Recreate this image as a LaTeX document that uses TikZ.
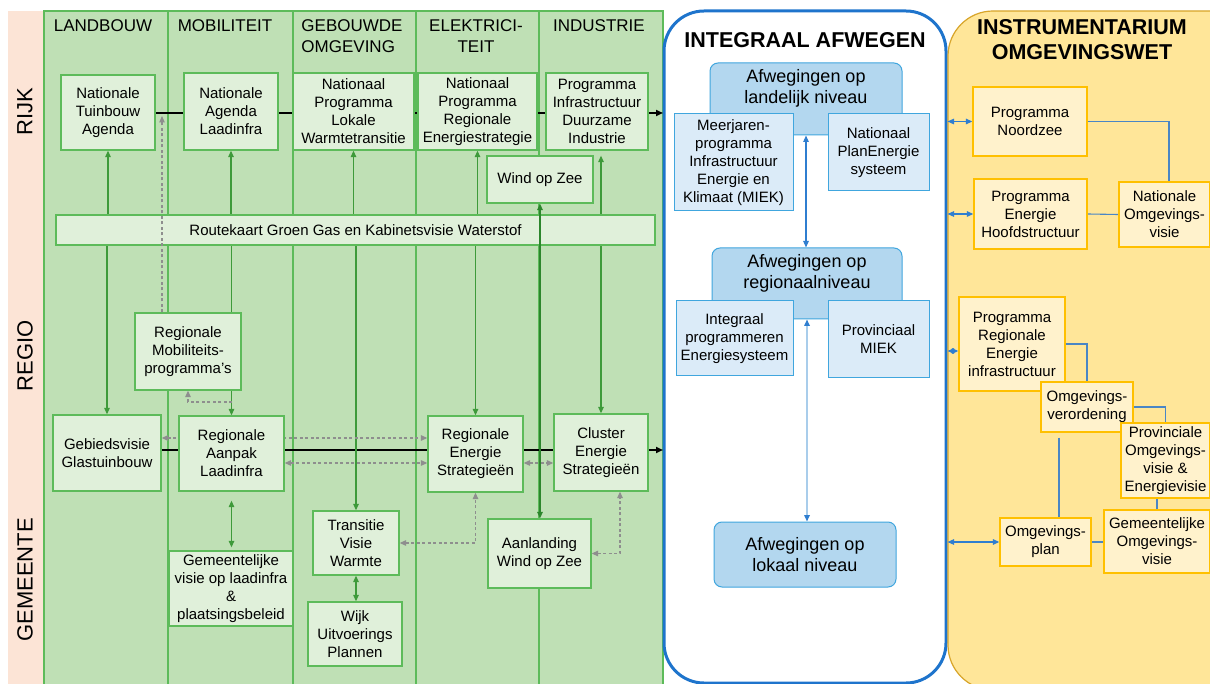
\documentclass[tikz,border=0pt]{standalone}
\usepackage{fontspec}
\setmainfont{Liberation Sans}
\usetikzlibrary{arrows.meta,calc}
\pgfdeclarelayer{back}
\pgfdeclarelayer{mid}
\pgfsetlayers{back,mid,main}
\definecolor{pinkbg}{HTML}{FCE4D6}
\definecolor{greenbg}{HTML}{BFE0B5}
\definecolor{greenline}{HTML}{5DBB5A}
\definecolor{greenbox}{HTML}{E0F0DA}
\definecolor{greenarrow}{HTML}{3E9A3A}
\definecolor{darkgreen}{HTML}{2C862C}
\definecolor{dashgray}{HTML}{8E8E8E}
\definecolor{panelblue}{HTML}{1E74CC}
\definecolor{boxblue}{HTML}{B3D7EF}
\definecolor{boxblueb}{HTML}{40A6DE}
\definecolor{smallblue}{HTML}{DBEBF8}
\definecolor{arrowblue}{HTML}{2F7ED0}
\definecolor{lightline}{HTML}{A9CDEB}
\definecolor{yellowbg}{HTML}{FFE699}
\definecolor{yellowborder}{HTML}{D8A52A}
\definecolor{yellowbox}{HTML}{FFF2CC}
\definecolor{yellowboxb}{HTML}{FFC000}
\definecolor{connblue}{HTML}{4A86C5}
\tikzset{
  >={Triangle[length=6.5pt,width=5.5pt]},
  wh/.style 2 args={minimum width=#1,minimum height=#2},
  txt/.style={font=\fontsize{15}{18}\selectfont, align=center, text=black},
  txtb/.style={font=\fontsize{18}{21}\selectfont, align=center, text=black},
  hdr/.style={font=\fontsize{17}{21}\selectfont, text=black, inner sep=0pt},
  sidelbl/.style={font=\fontsize{22}{26}\selectfont, text=black, rotate=90, inner sep=0pt},
  ttl/.style={font=\fontsize{21.5}{25}\selectfont\bfseries, text=black, align=center, inner sep=0pt},
  gbox/.style={txt, draw=greenline, fill=greenbox, line width=1.3pt, inner sep=2pt},
  bigblue/.style={draw=boxblueb, fill=boxblue, line width=1pt, rounded corners=8pt},
  sbox/.style={txt, draw=boxblueb, fill=smallblue, line width=1pt, inner sep=2pt},
  ybox/.style={txt, draw=yellowboxb, fill=yellowbox, line width=1.3pt, inner sep=2pt},
  col/.style={draw=greenline, fill=greenbg, line width=1.3pt},
  garrow/.style={draw=greenarrow, line width=1.2pt},
  garrowdark/.style={draw=darkgreen, line width=1.5pt},
  blk/.style={draw=black, line width=1.8pt, -{Triangle[length=7pt,width=6pt]}},
  gdash/.style={draw=dashgray, line width=1.2pt, dash pattern=on 3pt off 2.5pt},
  barrow/.style={draw=arrowblue, line width=1.2pt},
  barrowlight/.style={draw=lightline, line width=1.5pt, {Triangle[length=6.5pt,width=5.5pt,color=arrowblue]}-{Triangle[length=6.5pt,width=5.5pt,color=arrowblue]}},
  conn/.style={draw=connblue, line width=1.1pt},
}
\begin{document}
\begin{tikzpicture}[x=1pt,y=-1pt]
\useasboundingbox (0,0) rectangle (1210,684);
\begin{pgfonlayer}{back}
  \fill[pinkbg] (8,11) rectangle (44,690);
  \foreach \a/\b in {44/168,168/293,293/416,416/539,539/663}
    \draw[col] (\a,11) rectangle (\b,690);
  \node[draw=panelblue, line width=3pt, fill=white, rounded corners=40pt, wh={282}{672}] (ia) at (805,347) {};
  \node[draw=yellowborder, fill=yellowbg, line width=1.2pt, rounded corners=45pt, wh={314}{679}] (iw) at (1105,350.5) {};
\end{pgfonlayer}

% headers and side labels
\node[hdr] (hland) at (103,26) {LANDBOUW};
\node[hdr] (hmob) at (225,26) {MOBILITEIT};
\node[hdr, align=left] (hgeb) at (352,36.5) {GEBOUWDE\\OMGEVING};
\node[hdr, align=center] (helek) at (476,36.5) {ELEKTRICI-\\TEIT};
\node[hdr] (hind) at (599,26) {INDUSTRIE};
\node[sidelbl] (srijk) at (25,112) {RIJK};
\node[sidelbl] (sregio) at (25,356) {REGIO};
\node[sidelbl] (sgem) at (25,580) {GEMEENTE};

% green boxes
\node[gbox, wh={94}{75}] (tb) at (108,112.5) {Nationale\\Tuinbouw\\Agenda};
\node[gbox, wh={94}{77}] (la) at (231,111.5) {Nationale\\Agenda\\Laadinfra};
\node[gbox, wh={121}{77}] (wt) at (353.5,111.5) {Nationaal\\Programma\\Lokale\\Warmtetransitie};
\node[gbox, wh={119}{77}] (re) at (477.5,111.5) {Nationaal\\Programma\\Regionale\\Energiestrategie};
\node[gbox, wh={102}{77}] (di) at (597,111.5) {Programma\\Infrastructuur\\Duurzame\\Industrie};
\node[gbox, wh={106}{47}] (woz) at (540,179.5) {Wind op Zee};
\node[gbox, wh={599}{30}] (rk) at (355.5,230) {Routekaart Groen Gas en Kabinetsvisie Waterstof};
\node[gbox, wh={106}{77}] (rmp) at (188,351.5) {Regionale\\Mobiliteits-\\programma's};
\node[gbox, wh={108}{76}] (gv) at (107,453) {Gebiedsvisie\\Glastuinbouw};
\node[gbox, wh={105}{75}] (rl) at (231.5,453.5) {Regionale\\Aanpak\\Laadinfra};
\node[gbox, wh={95}{76}] (res) at (475.5,454) {Regionale\\Energie\\Strategieën};
\node[gbox, wh={94}{77}] (ces) at (601,452.5) {Cluster\\Energie\\Strategieën};
\node[gbox, wh={124}{75}] (gvl) at (231,588.5) {Gemeentelijke\\visie op laadinfra\\\&\\plaatsingsbeleid};
\node[gbox, wh={86}{64}] (tvw) at (356,543) {Transitie\\Visie\\Warmte};
\node[gbox, wh={94}{64}] (wup) at (355,634) {Wijk\\Uitvoerings\\Plannen};
\node[gbox, wh={103}{69}] (awz) at (539.5,553.5) {Aanlanding\\Wind op Zee};

% integraal afwegen
\node[ttl] (tia) at (805,40) {INTEGRAAL AFWEGEN};
\node[bigblue, wh={192}{72}, label={[txtb, anchor=north, yshift=-3pt]north:Afwegingen op\\landelijk niveau}] (al) at (806,99) {};
\node[bigblue, wh={190}{71}, label={[txtb, anchor=north, yshift=-3pt]north:Afwegingen op\\regionaalniveau}] (ar) at (807,283.5) {};
\node[bigblue, txtb, wh={182}{65}] (alo) at (805,554.5) {Afwegingen op\\lokaal niveau};
\node[sbox, wh={119}{97}] (mk) at (733.5,162.5) {Meerjaren-\\programma\\Infrastructuur\\Energie en\\Klimaat (MIEK)};
\node[sbox, wh={101}{77}] (npe) at (878.5,152.5) {Nationaal\\PlanEnergie\\systeem};
\node[sbox, wh={117}{75}] (ipe) at (734.5,338.5) {Integraal\\programmeren\\Energiesysteem};
\node[sbox, wh={101}{77}] (pm) at (878.5,339.5) {Provinciaal\\MIEK};

% instrumentarium
\node[ttl] (tiw) at (1082,39.5) {INSTRUMENTARIUM\\OMGEVINGSWET};
\node[ybox, wh={114}{69}] (pn) at (1030,121.5) {Programma\\Noordzee};
\node[ybox, wh={113}{70}] (peh) at (1030.5,214) {Programma\\Energie\\Hoofdstructuur};
\node[ybox, wh={91}{65}] (nov) at (1164.5,214.5) {Nationale\\Omgevings-\\visie};
\node[ybox, wh={106}{94}] (prei) at (1012,344) {Programma\\Regionale\\Energie\\infrastructuur};
\node[ybox, wh={92}{50}] (ov) at (1087,407) {Omgevings-\\verordening};
\node[ybox, wh={89}{75}] (po) at (1165.5,460.5) {Provinciale\\Omgevings-\\visie \&\\Energievisie};
\node[ybox, wh={91}{48}] (op) at (1045.5,542) {Omgevings-\\plan};
\node[ybox, wh={106}{63}] (gov) at (1157,541.5) {Gemeentelijke\\Omgevings-\\visie};

\coordinate (rijkend) at (663,113);
\coordinate (regend) at (663,450);
\coordinate (ya) at (0,438);
\coordinate (yb) at (0,463);
\coordinate (rljoin) at (232,402);
\coordinate (dtip) at (162,116);

\begin{pgfonlayer}{mid}
  % black flow lines
  \draw[blk] (tb.east |- rijkend) -- (rijkend);
  \draw[blk] (gv.east |- regend) -- (regend);
  % green arrows up to rijk
  \draw[garrow,->] (rk.north -| tb.south) -- (tb.south);
  \draw[garrow,->] (rk.north -| la.south) -- (la.south);
  \draw[garrow,->] (rk.north -| wt.south) -- (wt.south);
  \draw[garrow,->] (rk.north -| re.south) -- (re.south);
  \draw[garrow,->] ($(rk.north -| di.south)+(4,0)$) -- ($(di.south)+(4,5)$);
  % green arrows down to regio
  \draw[garrow,->] (rk.south -| gv.north) -- (gv.north);
  \draw[garrow,->] (rk.south -| rl.north) -- (rl.north);
  \draw[garrow,->] (rk.south -| tvw.north) -- (tvw.north);
  \draw[garrow,->] (rk.south -| res.north) -- (res.north);
  \draw[garrow,->] (rk.south -| ces.north) -- (ces.north);
  \draw[garrow,<->, shorten <=9pt, shorten >=3pt] (rl.south) -- (rl.south |- gvl.north);
  \draw[garrow,<->] (tvw.south) -- (tvw.south |- wup.north);
  % dashed gray
  \draw[gdash,->] (rljoin) -| (rmp.south);
  \draw[gdash,<->] (gv.east |- ya) -- (res.west |- ya);
  \draw[gdash,<->] (rl.east |- yb) -- (res.west |- yb);
  \draw[gdash,<->] (res.east |- yb) -- (ces.west |- yb);
  \draw[gdash,<->] (tvw.east) -| (res.south);
  \draw[gdash,<->] (awz.east) -| ($(ces.south)+(19,0)$);
  % blue
  \draw[barrow,<->] (al.south) -- (al.south |- ar.north);
  \draw[barrowlight] (ar.south) -- (ar.south |- alo.north);
  \draw[barrow,<->] (ia.east |- pn.west) -- (pn.west);
  \draw[barrow,<->] (ia.east |- peh.west) -- (peh.west);
  \draw[barrow,<->] ($(ia.east |- prei.west)+(0,7)$) -- ($(prei.west)+(0,7)$);
  \draw[barrow,<->] (ia.east |- op.west) -- (op.west);
  % instrumentarium connectors
  \draw[conn] (pn.east) -| ($(nov.north)+(4.5,0)$);
  \draw[conn] (peh.east) -- (nov.west);
  \draw[conn] (prei.east) -| (ov.north);
  \draw[conn] (ov.east) -| (po.north);
  \draw[conn] ($(ov.south)+(-28,5)$) coordinate (ovs) -- (ovs |- op.north);
  \draw[conn] (gov.north |- po.south) -- (gov.north);
  \draw[conn] (op.east) -- (op.east -| gov.west);
\end{pgfonlayer}

% on top
\draw[garrowdark,<->] (woz.south) -- (woz.south |- awz.north);
\draw[gdash,->] (dtip |- rmp.north) -- (dtip);
\end{tikzpicture}
\end{document}
